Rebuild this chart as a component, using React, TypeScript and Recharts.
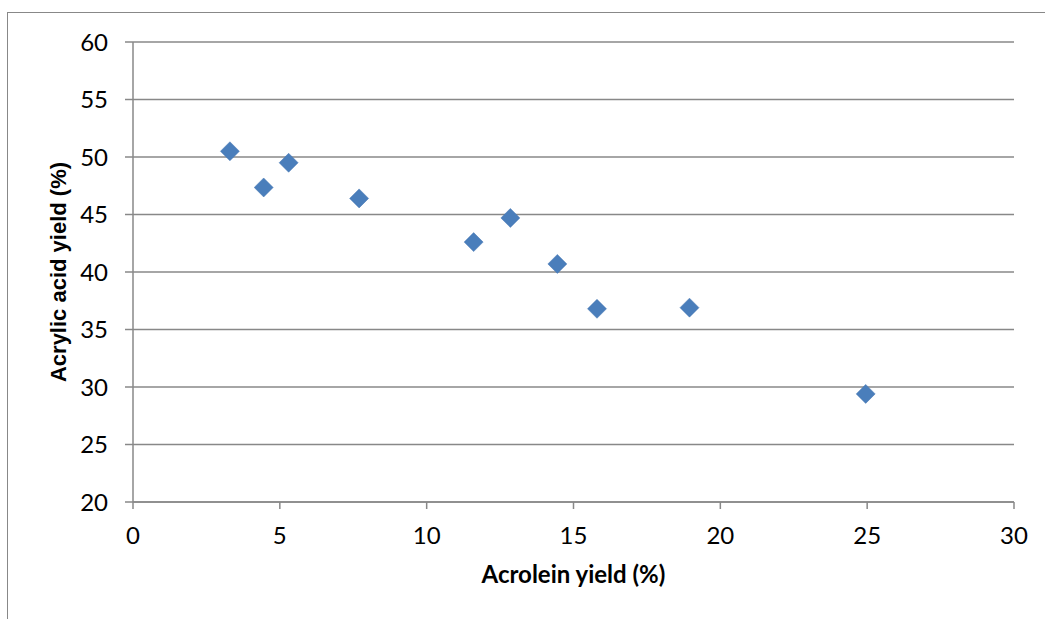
import { CartesianGrid, Scatter, ScatterChart, XAxis, YAxis } from "recharts";

const acroleinYield = [3.3, 4.45, 5.3, 7.7, 11.6, 12.85, 14.45, 15.8, 18.95, 24.95];
const acrylicAcidYield = [50.5, 47.35, 49.5, 46.4, 42.6, 44.7, 40.7, 36.8, 36.9, 29.4];
const xTicks = [0, 5, 10, 15, 20, 25, 30];
const yTicks = [20, 25, 30, 35, 40, 45, 50, 55, 60];

const points = acroleinYield.map((x, i) => ({ x, y: acrylicAcidYield[i] }));

const AXIS = "#888888";
const FONT = "Lato, 'Open Sans', sans-serif";

function Diamond(props: any) {
  const { cx, cy } = props;
  const r = 9.5;
  return (
    <path
      d={`M${cx},${cy - r}L${cx + r},${cy}L${cx},${cy + r}L${cx - r},${cy}Z`}
      fill="#4A7EBB"
      stroke="#4677b3"
      strokeWidth={0.5}
    />
  );
}

export default function App() {
  return (
    <div
      style={{
        position: "absolute",
        left: 0,
        top: 0,
        width: 1045,
        height: 619,
        overflow: "hidden",
        background: "#fff",
      }}
    >
      <div
        style={{
          position: "absolute",
          left: 7,
          top: 12,
          width: 1200,
          height: 800,
          border: `1.3px solid ${AXIS}`,
        }}
      />
      <div style={{ position: "absolute", left: 0, top: 0 }}>
        <ScatterChart
          width={1045}
          height={619}
          margin={{ top: 42, right: 31, bottom: 0, left: 0 }}
        >
          <CartesianGrid vertical={false} stroke={AXIS} strokeWidth={1.5} />
          <XAxis
            type="number"
            dataKey="x"
            domain={[0, 30]}
            ticks={xTicks}
            height={117}
            tickSize={7}
            tickMargin={18}
            stroke={AXIS}
            strokeWidth={1.5}
            tick={{ fill: "#000", fontSize: 24, fontFamily: FONT }}
            label={{
              value: "Acrolein yield (%)",
              position: "insideBottom",
              offset: 36,
              style: { fill: "#000", fontSize: 24, fontWeight: 700, fontFamily: FONT },
            }}
          />
          <YAxis
            type="number"
            dataKey="y"
            domain={[20, 60]}
            ticks={yTicks}
            width={133}
            tickSize={8}
            tickMargin={17}
            stroke={AXIS}
            strokeWidth={1.5}
            tick={{ fill: "#000", fontSize: 24, fontFamily: FONT }}
            label={{
              value: "Acrylic acid yield (%)",
              angle: -90,
              position: "insideLeft",
              offset: 58,
              style: {
                textAnchor: "middle",
                fill: "#000",
                fontSize: 22,
                fontWeight: 700,
                fontFamily: "'Liberation Sans', Arial, sans-serif",
              },
            }}
          />
          <Scatter data={points} shape={Diamond} isAnimationActive={false} />
        </ScatterChart>
      </div>
    </div>
  );
}
